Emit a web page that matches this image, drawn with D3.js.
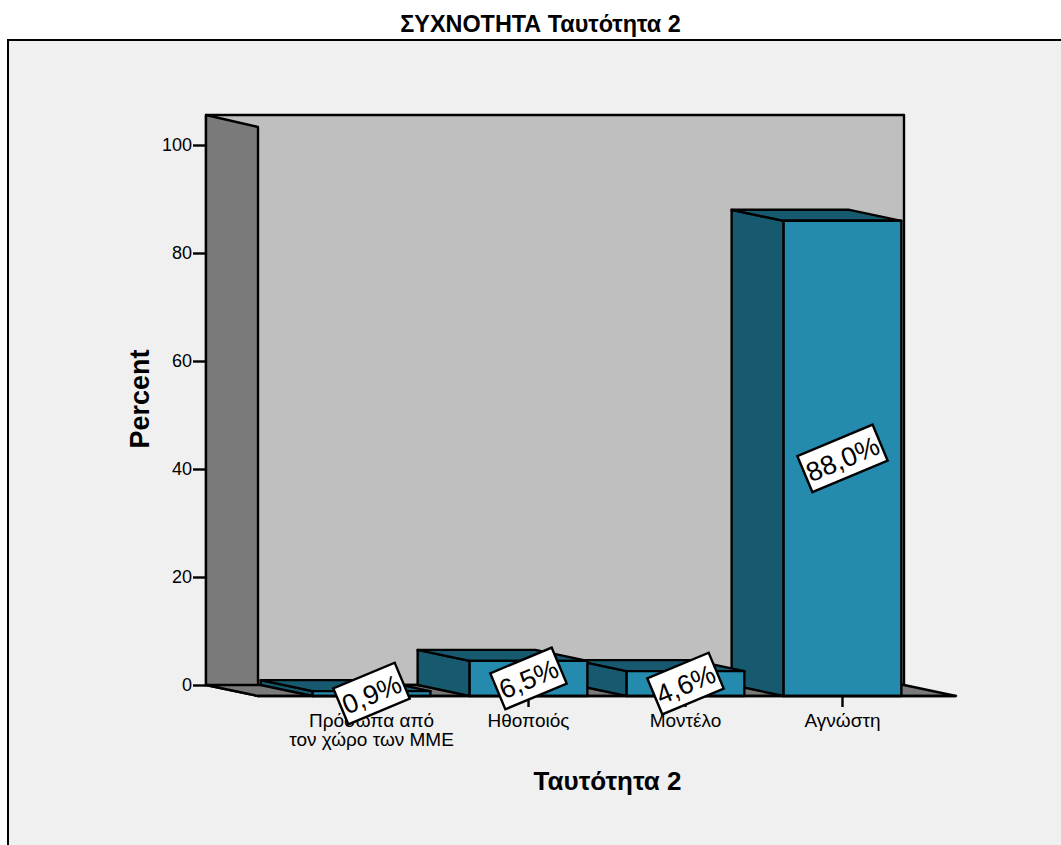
<!DOCTYPE html>
<html lang="el">
<head>
<meta charset="utf-8">
<title>ΣΥΧΝΟΤΗΤΑ Ταυτότητα 2</title>
<script src="https://cdn.jsdelivr.net/npm/d3@7/dist/d3.min.js"></script>
<style>
  html, body { margin: 0; padding: 0; background: #fff; overflow: hidden; }
  svg { display: block; font-family: "Liberation Sans", Arial, sans-serif; }
</style>
</head>
<body>
<svg id="chart" width="1061" height="845"></svg>
<script>
// Frequencies of "Ταυτότητα 2", in percent
const categories = ["Πρόσωπα από\nτον χώρο των ΜΜΕ", "Ηθοποιός", "Μοντέλο", "Αγνώστη"];
const percents = [0.9, 6.5, 4.6, 88.0];
const yTickValues = [0, 20, 40, 60, 80, 100];
const yAxisTop = 105.56;

const colors = {
  panel: "#f0f0f0", backWall: "#bfbfbf", sideWall: "#7a7a7a", floor: "#7a7a7a",
  barFront: "#248aae", barShade: "#175a70", ink: "#000"
};

const svg = d3.select("#chart");
const lineWidth = 2.4;
const depthX = 52, depthY = 11;          // oblique offset between front and back planes
const frontLeft = 258, frontRight = 956;
const backBase = 685, frontBase = backBase + depthY;

const yBack = d3.scaleLinear().domain([0, 100]).range([backBase, 145]);
const yFront = v => yBack(v) + depthY;
const x = d3.scaleBand().domain(categories)
  .range([frontLeft, frontRight]).paddingInner(0.25).paddingOuter(0.348);

const poly = pts => pts.map(p => p.join(",")).join(" ");
const shape = (pts, fill) => svg.append("polygon")
  .attr("points", poly(pts)).attr("fill", fill)
  .attr("stroke", colors.ink).attr("stroke-width", lineWidth).attr("stroke-linejoin", "round");

// Panel behind the plot, open towards the right and bottom edges
svg.append("rect").attr("x", 8).attr("y", 40).attr("width", 1070).attr("height", 830)
  .attr("fill", colors.panel).attr("stroke", colors.ink).attr("stroke-width", 2);

svg.append("text").attr("x", 540.5).attr("y", 32).attr("text-anchor", "middle")
  .attr("font-size", 23.4).attr("font-weight", "bold").text("ΣΥΧΝΟΤΗΤΑ Ταυτότητα 2");

// Walls and floor of the 3D box
const wallTop = yBack(yAxisTop);
const wallLeft = frontLeft - depthX, wallRight = frontRight - depthX;
shape([[wallLeft, wallTop], [wallRight, wallTop], [wallRight, backBase], [wallLeft, backBase]], colors.backWall);
shape([[wallLeft, wallTop], [frontLeft, wallTop + depthY + 1], [frontLeft, frontBase], [wallLeft, backBase]], colors.sideWall);
shape([[wallLeft, backBase], [wallRight, backBase], [frontRight, frontBase], [frontLeft, frontBase]], colors.floor);

// Y axis runs along the back plane
const yAxis = svg.append("g").attr("transform", `translate(${wallLeft},0)`)
  .call(d3.axisLeft(yBack).tickValues(yTickValues).tickSize(13).tickPadding(1).tickSizeOuter(0));
yAxis.select(".domain").remove();
yAxis.selectAll("line").attr("stroke", colors.ink).attr("stroke-width", lineWidth);
yAxis.selectAll("text").attr("font-size", 18).attr("font-family", "Liberation Sans").attr("fill", colors.ink);

// X axis with wrapped category names
const xAxis = svg.append("g").attr("transform", `translate(0,${frontBase})`)
  .call(d3.axisBottom(x).tickSize(11).tickSizeOuter(0));
xAxis.select(".domain").remove();
xAxis.selectAll("line").attr("stroke", colors.ink).attr("stroke-width", lineWidth);
xAxis.selectAll("text").each(function (d) {
  const t = d3.select(this).text(null).attr("font-size", 19)
    .attr("font-family", "Liberation Sans").attr("fill", colors.ink).attr("y", 0).attr("dy", null);
  d.split("\n").forEach((line, i) => {
    t.append("tspan").attr("x", 0).attr("y", 31 + i * 19).text(line);
  });
});

// Bars, painted right to left so nearer front faces overlap the neighbour's side
const rows = categories.map((c, i) => ({ c, v: percents[i] }));
const barLayer = rows.slice().reverse();
barLayer.forEach(d => {
  const x0 = x(d.c), x1 = x0 + x.bandwidth(), top = yFront(d.v);
  shape([[x0 - depthX, top - depthY], [x0, top], [x0, frontBase], [x0 - depthX, frontBase - depthY]], colors.barShade);
  shape([[x0 - depthX, top - depthY], [x1 - depthX, top - depthY], [x1, top], [x0, top]], colors.barShade);
  shape([[x0, top], [x1, top], [x1, frontBase], [x0, frontBase]], colors.barFront);
});

// Front edge of the floor stays on top of the bars
svg.append("line").attr("x1", frontLeft).attr("x2", frontRight)
  .attr("y1", frontBase).attr("y2", frontBase)
  .attr("stroke", colors.ink).attr("stroke-width", lineWidth);

// Axis titles
svg.append("text").attr("x", 607.5).attr("y", 790).attr("text-anchor", "middle")
  .attr("font-size", 26).attr("font-weight", "bold").text("Ταυτότητα 2");
svg.append("text").attr("transform", "translate(149,399) rotate(-90)").attr("text-anchor", "middle")
  .attr("font-size", 27).attr("font-weight", "bold").text("Percent");

// Rotated value labels centred on each front face
const locale = d3.formatLocale({ decimal: ",", thousands: ".", grouping: [3], currency: ["", "€"] });
const fmt = v => locale.format(".1f")(v) + "%";
rows.forEach(d => {
  const cx = x(d.c) + x.bandwidth() / 2, cy = (yFront(d.v) + frontBase) / 2;
  const g = svg.append("g").attr("transform", `translate(${cx},${cy}) rotate(-22.7)`);
  const label = g.append("text").attr("text-anchor", "middle").attr("y", 10)
    .attr("font-size", 27).attr("fill", colors.ink).text(fmt(d.v));
  const w = label.node().getComputedTextLength() + 5;
  g.insert("rect", "text").attr("x", -w / 2).attr("y", -19.5).attr("width", w).attr("height", 39)
    .attr("fill", "#fff").attr("stroke", colors.ink).attr("stroke-width", lineWidth);
});
</script>
</body>
</html>
